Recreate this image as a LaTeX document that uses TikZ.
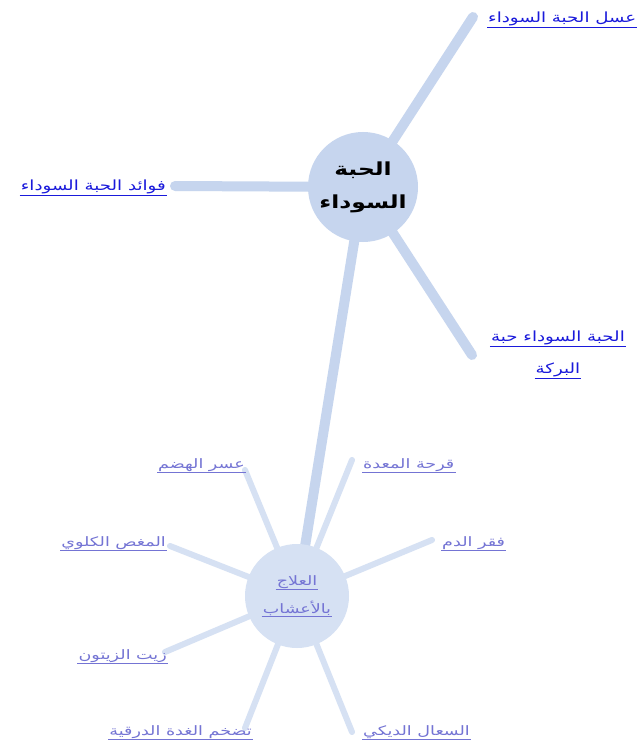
\documentclass[tikz,border=0pt]{standalone}
\usepackage{fontspec}
\newfontfamily\arabicfont[Script=Arabic]{DejaVu Sans}
\newfontfamily\arabicwide[Script=Arabic,FakeStretch=1.3]{DejaVu Sans}
\newfontfamily\arabicwider[Script=Arabic,FakeStretch=1.35]{DejaVu Sans}
\TeXXeTstate=1
\usetikzlibrary{backgrounds}
\definecolor{mainfill}{HTML}{C6D5EE}
\definecolor{subfill}{HTML}{D6E1F3}
\definecolor{linkA}{HTML}{1A1ADB}
\definecolor{linkB}{HTML}{7474D4}
\tikzset{
  hub/.style={circle, fill=mainfill, minimum size=110pt, inner sep=0pt, align=center,
    font=\arabicwide\bfseries\fontsize{18}{33}\selectfont, text=black},
  subhub/.style={circle, fill=subfill, minimum size=104pt, inner sep=0pt},
  biglink/.style={text=linkA, inner sep=1pt, font=\arabicwide\fontsize{14}{16}\selectfont,
    append after command={(\tikzlastnode.south west) edge[draw=linkA, line width=0.9pt] (\tikzlastnode.south east)}},
  smalllink/.style={text=linkB, inner sep=1pt, font=\arabicwider\fontsize{13}{15}\selectfont,
    append after command={(\tikzlastnode.south west) edge[draw=linkB, line width=0.8pt] (\tikzlastnode.south east)}},
  branch/.style={draw=mainfill, line width=10pt, line cap=round},
  twig/.style={draw=subfill, line width=6pt, line cap=round},
}
\begin{document}
\begin{tikzpicture}[x=1pt,y=-1pt]
\useasboundingbox (0,0) rectangle (644,751);
% hubs
\node[hub] (main) at (363,187) {\beginR الحبة\endR\\\beginR السوداء\endR};
\node[subhub] (sub) at (297,596) {};
\node[smalllink] (subA) at (297,582) {\beginR العلاج\endR};
\node[smalllink] (subB) at (297,608) {\beginR بالأعشاب\endR};
% main labels
\node[biglink, anchor=west] (l1) at (487,19) {\beginR عسل الحبة السوداء\endR};
\node[biglink, anchor=east] (l2) at (167,187) {\beginR فوائد الحبة السوداء\endR};
\node[biglink] (l3a) at (558,338) {\beginR الحبة السوداء حبة\endR};
\node[biglink] (l3b) at (558,370) {\beginR البركة\endR};
% sub labels
\node[smalllink, anchor=east] (s1) at (246,465) {\beginR عسر الهضم\endR};
\node[smalllink, anchor=west] (s2) at (362,465) {\beginR قرحة المعدة\endR};
\node[smalllink, anchor=east] (s3) at (167,543) {\beginR المغص الكلوي\endR};
\node[smalllink, anchor=west] (s4) at (441,543) {\beginR فقر الدم\endR};
\node[smalllink, anchor=east] (s5) at (168,656) {\beginR زيت الزيتون\endR};
\node[smalllink, anchor=east] (s6) at (253,732) {\beginR تضخم الغدة الدرقية\endR};
\node[smalllink, anchor=west] (s7) at (362,732) {\beginR السعال الديكي\endR};
% free ends
\coordinate (e1) at (473,17);
\coordinate (e2) at (175,186);
\coordinate (e3) at (472,355);
\coordinate (f1) at (245,470);
\coordinate (f2) at (352,460);
\coordinate (f3) at (170,546);
\coordinate (f4) at (432,540);
\coordinate (f5) at (165,652);
\coordinate (f6) at (245,728);
\coordinate (f7) at (352,732);
\begin{scope}[on background layer]
  \fill[white] (0,0) rectangle (644,751);
  \draw[branch] (main.center) -- (e1);
  \draw[branch] (main.center) -- (e2);
  \draw[branch] (main.center) -- (e3);
  \draw[branch] (main.center) -- (sub.center);
  \foreach \f in {f1,f2,f3,f4,f5,f6,f7} \draw[twig] (sub.center) -- (\f);
\end{scope}
\end{tikzpicture}
\end{document}
